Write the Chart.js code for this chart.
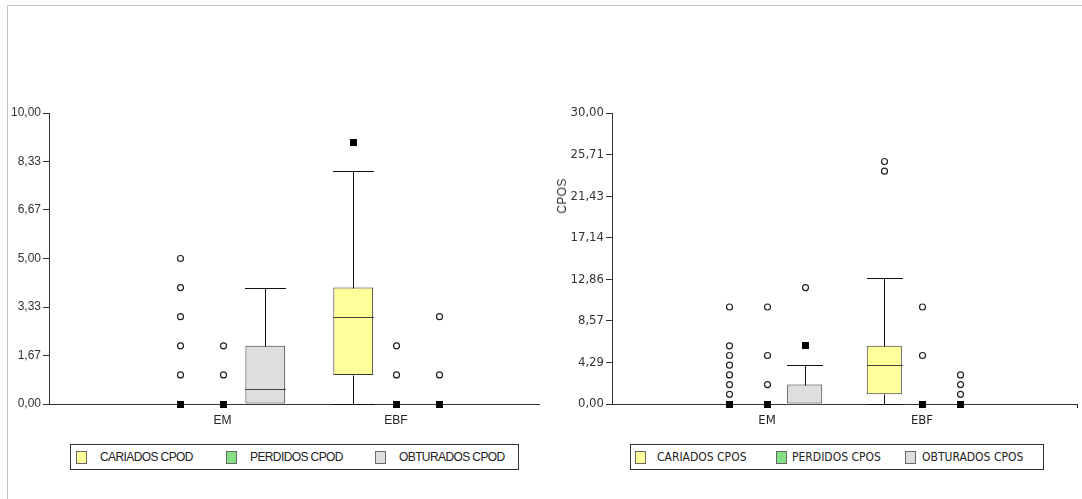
<!DOCTYPE html>
<html>
<head>
<meta charset="utf-8">
<script src="https://cdn.jsdelivr.net/npm/chart.js@4.4.1/dist/chart.umd.min.js"></script>
<style>
  html, body { margin: 0; padding: 0; background: #fff; }
  body { width: 1082px; height: 499px; position: relative; overflow: hidden; font-family: "Liberation Sans", Arial, sans-serif; color: #222; }
  .frame { position: absolute; left: 7px; top: 5px; width: 1090px; height: 510px; border-top: 1px solid #c4c4c4; border-left: 1px solid #c4c4c4; }
  canvas { position: absolute; top: 0; }
  #cpod { left: 0; }
  #cpos { left: 560px; }
  .ytitle { position: absolute; left: 562px; top: 196px; transform: translate(-50%, -50%) rotate(-90deg); font: normal 12px "Liberation Sans", Arial, sans-serif; letter-spacing: 0.3px; color: #333; white-space: nowrap; }
  .legend { position: absolute; top: 444px; height: 26px; border: 1px solid #333; box-sizing: border-box; background: #fff; }
  .legend .sw { position: absolute; top: 6px; width: 11px; height: 13px; border: 1px solid #666; box-sizing: border-box; }
  .legend .tx { position: absolute; top: 0; line-height: 25px; white-space: nowrap; color: #222; }
  #legCpod { left: 70px; width: 449px; }
  #legCpod .tx { font: 12px "Liberation Sans", Arial, sans-serif; line-height: 25px; letter-spacing: -0.6px; }
  #legCpos { left: 630px; width: 414px; }
  #legCpos .tx { font: 12px "Liberation Sans Narrow", "DejaVu Sans Condensed", sans-serif; line-height: 25px; }
</style>
</head>
<body>
<div class="frame"></div>
<canvas id="cpod" width="548" height="440"></canvas>
<canvas id="cpos" width="522" height="440"></canvas>
<div class="ytitle">CPOS</div>
<div class="legend" id="legCpod"></div>
<div class="legend" id="legCpos"></div>

<script>
// ---- data ----
const categories = ['EM', 'EBF'];
const seriesColors = ['#FFFF99', '#85E085', '#DEDEDE'];

// CPOD (series: cariados, perdidos, obturados; values per category)
const cpodSeries = ['CARIADOS CPOD', 'PERDIDOS CPOD', 'OBTURADOS CPOD'];
const cpodTicks = [0, 10 / 6, 20 / 6, 5, 40 / 6, 50 / 6, 10];
const cpodQ1 = [[0, 1], [0, 0], [0, 0]];
const cpodMedian = [[0, 3], [0, 0], [0.5, 0]];
const cpodQ3 = [[0, 4], [0, 0], [2, 0]];
const cpodWhiskerLow = [[0, 0], [0, 0], [0, 0]];
const cpodWhiskerHigh = [[0, 8], [0, 0], [4, 0]];
const cpodOutliers = [[[1, 2, 3, 4, 5], []], [[1, 2], [1, 2]], [[], [1, 3]]];
const cpodExtremes = [[[0], [9]], [[0], [0]], [[], [0]]];

// CPOS
const cposSeries = ['CARIADOS CPOS', 'PERDIDOS CPOS', 'OBTURADOS CPOS'];
const cposTicks = [0, 30 / 7, 60 / 7, 90 / 7, 120 / 7, 150 / 7, 180 / 7, 30];
const cposQ1 = [[0, 1], [0, 0], [0, 0]];
const cposMedian = [[0, 4], [0, 0], [0, 0]];
const cposQ3 = [[0, 6], [0, 0], [2, 0]];
const cposWhiskerLow = [[0, 0], [0, 0], [0, 0]];
const cposWhiskerHigh = [[0, 13], [0, 0], [4, 0]];
const cposOutliers = [[[1, 2, 3, 4, 5, 6, 10], [24, 25]], [[2, 5, 10], [5, 10]], [[12], [1, 2, 3]]];
const cposExtremes = [[[0], []], [[0], [0]], [[6], [0]]];

// ---- whiskers, medians and individual points drawn on top of the boxes ----
const boxWhiskers = {
  id: 'boxWhiskers',
  afterDatasetsDraw(chart, args, opts) {
    const ctx = chart.ctx;
    const ys = chart.scales.y;
    const py = v => Math.round(ys.getPixelForValue(v)) + 0.5;
    ctx.save();
    chart.data.datasets.forEach((ds, s) => {
      const meta = chart.getDatasetMeta(s);
      meta.data.forEach((bar, c) => {
        const cx = Math.round(bar.x) + 0.5;
        const left = Math.round(bar.x - bar.width / 2);
        const right = Math.round(bar.x + bar.width / 2);
        const q1 = opts.q1[s][c], q3 = opts.q3[s][c];
        const lo = opts.low[s][c], hi = opts.high[s][c];
        ctx.lineWidth = 1;
        ctx.strokeStyle = '#111';
        ctx.beginPath();
        if (hi > q3) {
          ctx.moveTo(cx, py(q3)); ctx.lineTo(cx, py(hi));
          ctx.moveTo(left, py(hi)); ctx.lineTo(right + 1, py(hi));
        }
        if (lo < q1) {
          ctx.moveTo(cx, py(q1)); ctx.lineTo(cx, py(lo));
          ctx.moveTo(left, py(lo)); ctx.lineTo(right + 1, py(lo));
        }
        ctx.stroke();
        if (q3 > q1) {
          ctx.strokeStyle = '#444';
          ctx.beginPath();
          ctx.moveTo(left, py(opts.median[s][c]));
          ctx.lineTo(right + 1, py(opts.median[s][c]));
          ctx.stroke();
        }
        // outlying values: open circles
        ctx.strokeStyle = '#222';
        ctx.fillStyle = '#fff';
        ctx.lineWidth = 1.2;
        opts.outliers[s][c].forEach(v => {
          ctx.beginPath();
          ctx.arc(cx, ys.getPixelForValue(v), 3, 0, Math.PI * 2);
          ctx.fill();
          ctx.stroke();
        });
        // extreme values: filled squares
        ctx.fillStyle = '#000';
        opts.extremes[s][c].forEach(v => {
          const y = ys.getPixelForValue(v);
          ctx.fillRect(Math.round(cx - 3.5), Math.round(y - 3.5), 7, 7);
        });
      });
    });
    ctx.restore();
  }
};

function makeChart(id, cfg) {
  const datasets = cfg.series.map((name, s) => ({
    label: name,
    data: categories.map((cat, c) => ({ x: c + 1, y: [cfg.q1[s][c], cfg.q3[s][c]] })),
    backgroundColor: seriesColors[s],
    borderColor: '#333',
    borderWidth: 1,
    borderSkipped: false,
    categoryPercentage: cfg.catPct,
    barPercentage: 0.93
  }));
  const xTickValues = categories.map((c, i) => i + 1);
  if (cfg.endTick) xTickValues.push(categories.length + 1);
  return new Chart(document.getElementById(id), {
    type: 'bar',
    data: { datasets },
    plugins: [boxWhiskers],
    options: {
      responsive: false,
      animation: false,
      events: [],
      layout: { padding: { top: 113, right: cfg.padRight, left: 0, bottom: 0 } },
      plugins: {
        legend: { display: false },
        tooltip: { enabled: false },
        boxWhiskers: {
          q1: cfg.q1, q3: cfg.q3, median: cfg.median, low: cfg.low, high: cfg.high,
          outliers: cfg.outliers, extremes: cfg.extremes
        }
      },
      scales: {
        x: {
          type: 'linear',
          min: 0,
          max: cfg.xMax,
          offset: false,
          afterBuildTicks: sc => { sc.ticks = xTickValues.map(v => ({ value: v })); },
          ticks: {
            callback: v => categories[v - 1] || '',
            padding: 5,
            maxRotation: 0,
            autoSkip: false,
            color: '#222',
            font: cfg.font
          },
          grid: { display: true, offset: false, drawOnChartArea: false, drawTicks: true, tickLength: 4, color: '#222', lineWidth: 1 },
          border: { display: true, color: '#333', width: 1 },
          afterFit: sc => { sc.height = 36; }
        },
        y: {
          type: 'linear',
          min: 0,
          max: cfg.yMax,
          afterBuildTicks: sc => { sc.ticks = cfg.ticks.map(v => ({ value: v })); },
          ticks: {
            callback: v => v.toFixed(2).replace('.', ','),
            padding: 2,
            autoSkip: false,
            color: '#333',
            font: cfg.font
          },
          grid: { display: true, drawOnChartArea: false, drawTicks: true, tickLength: 6, color: '#333', lineWidth: 1 },
          border: { display: true, color: '#333', width: 1 },
          afterFit: sc => { sc.width = cfg.yWidth; }
        }
      }
    }
  });
}

makeChart('cpod', {
  series: cpodSeries, ticks: cpodTicks, yMax: 10, xMax: 2.824, yWidth: 49, padRight: 9,
  catPct: 0.74, endTick: false,
  font: { family: '"Liberation Sans", Arial, sans-serif', size: 12 },
  q1: cpodQ1, q3: cpodQ3, median: cpodMedian, low: cpodWhiskerLow, high: cpodWhiskerHigh,
  outliers: cpodOutliers, extremes: cpodExtremes
});

makeChart('cpos', {
  series: cposSeries, ticks: cposTicks, yMax: 30, xMax: 3, yWidth: 52, padRight: 1,
  catPct: 0.73, endTick: true,
  font: { family: '"Liberation Sans Narrow", "DejaVu Sans Condensed", sans-serif', size: 13 },
  q1: cposQ1, q3: cposQ3, median: cposMedian, low: cposWhiskerLow, high: cposWhiskerHigh,
  outliers: cposOutliers, extremes: cposExtremes
});

// ---- legends ----
function buildLegend(id, names, swatchLefts, textLefts) {
  const box = document.getElementById(id);
  names.forEach((name, i) => {
    const sw = document.createElement('div');
    sw.className = 'sw';
    sw.style.left = swatchLefts[i] + 'px';
    sw.style.background = seriesColors[i];
    const tx = document.createElement('div');
    tx.className = 'tx';
    tx.style.left = textLefts[i] + 'px';
    tx.textContent = name;
    box.appendChild(sw);
    box.appendChild(tx);
  });
}
buildLegend('legCpod', cpodSeries, [5, 155, 304], [29, 179, 328]);
buildLegend('legCpos', cposSeries, [4, 145, 274], [26, 161, 291]);
</script>
</body>
</html>
